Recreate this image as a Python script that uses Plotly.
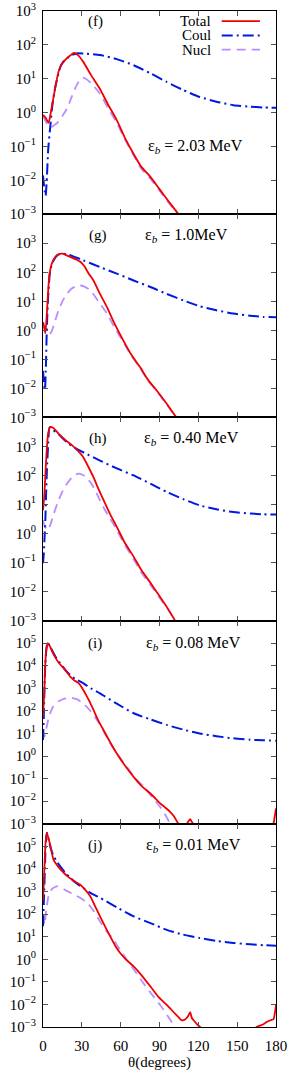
import plotly.graph_objects as go
from plotly.subplots import make_subplots

# ---------------- data (theta in degrees, cross section) ----------------
# panel (f) eps_b = 2.03 MeV
f_tot_x = [0, 2, 4.3, 6, 8.2, 10, 12, 14.5, 17.2, 20, 24, 27, 31, 37, 44, 50, 57, 63, 70, 76, 83, 90, 97, 104.6, 108]
f_tot_y = [0.85, 0.7, 0.5, 1.0, 2.9, 7, 16, 27, 36, 45, 58, 50, 32, 13, 5, 1.8, 0.6, 0.19, 0.06, 0.025, 0.0126, 0.0055, 0.0024, 0.001, 0.0006]
f_cou_x = [0, 1, 2, 3, 4, 5.6, 7.5, 9.5, 11.5, 13.3, 15.5, 18.5, 22, 26, 32, 44, 57, 70, 83, 95.7, 108, 121, 134, 147, 160, 170, 180]
f_cou_y = [0.014, 0.006, 0.0035, 0.012, 0.08, 0.38, 2.0, 5.8, 12, 22, 31, 40, 50, 56, 55, 50, 38, 25, 14.5, 8, 4.7, 2.9, 2.1, 1.66, 1.5, 1.42, 1.38]
f_nuc_x = [0, 2, 4.5, 7, 9.5, 12, 15, 18.5, 22, 26, 30, 33, 37, 44, 50, 57, 63, 70, 76, 83, 90, 97, 104, 108]
f_nuc_y = [0.8, 0.55, 0.38, 0.38, 0.45, 0.54, 0.8, 1.3, 2.8, 6.5, 10.5, 10, 7.5, 3.6, 1.4, 0.5, 0.17, 0.055, 0.022, 0.011, 0.005, 0.0022, 0.001, 0.0006]

# panel (g) eps_b = 1.0 MeV
g_tot_x = [0, 1, 1.8, 3, 4.8, 6.5, 8.2, 10.5, 13, 15, 18, 21, 23.6, 26, 28.8, 32, 35, 39, 44, 49.4, 55, 62, 68, 75, 81, 88, 95, 103, 106]
g_tot_y = [1.9, 1.2, 0.8, 4, 70, 180, 270, 380, 430, 440, 390, 340, 300, 270, 230, 160, 95, 52, 18, 6.3, 1.8, 0.45, 0.15, 0.054, 0.02, 0.0083, 0.0032, 0.001, 0.0007]
g_cou_x = [0, 0.8, 1.5, 2.2, 3, 4, 5.6, 8.2, 11, 14.7, 20, 25, 31, 44, 57, 70, 83, 95.5, 108.5, 121, 134, 147, 160, 170, 180]
g_cou_y = [0.04, 0.015, 0.009, 0.05, 1.3, 15, 117, 260, 380, 440, 400, 330, 260, 150, 90, 52, 31, 18, 10.7, 6.8, 4.9, 3.8, 3.2, 2.9, 2.8]
g_nuc_x = [0, 2, 3.5, 5, 7, 9.5, 12, 15, 18.5, 22, 25.5, 28.8, 32, 36.5, 40, 44, 49.4, 55, 62, 68, 75, 81, 88, 95, 103, 106]
g_nuc_y = [1.9, 1.1, 0.8, 0.72, 1.0, 2.2, 4.9, 10, 18, 27, 33, 35, 32, 24, 15, 8.3, 3.8, 1.3, 0.4, 0.14, 0.05, 0.019, 0.0078, 0.003, 0.001, 0.0007]

# panel (h) eps_b = 0.40 MeV
h_tot_x = [0, 1, 2, 3, 4, 5.6, 8, 10.5, 13.3, 17, 21, 24, 26, 28.5, 31, 35, 39, 43, 46.8, 52, 57, 63, 70, 76, 83, 90, 96, 102, 105]
h_tot_y = [6.3, 20, 150, 900, 2800, 4700, 4300, 3300, 2400, 1700, 1230, 950, 780, 600, 430, 200, 87, 33, 14, 4.5, 1.7, 0.5, 0.16, 0.055, 0.02, 0.007, 0.0028, 0.001, 0.0006]
h_cou_x = [0, 0.6, 1.2, 1.8, 2.4, 3, 4, 5.1, 7, 9.5, 13.3, 18.5, 25, 32, 44, 57, 70, 83, 95.5, 108, 121, 134, 147, 160, 170, 180]
h_cou_y = [0.095, 0.2, 0.7, 2.9, 25, 148, 1200, 4500, 4000, 3200, 2350, 1380, 880, 600, 325, 175, 100, 52, 27, 15.5, 9.3, 6.8, 5.5, 4.9, 4.6, 4.5]
h_nuc_x = [0, 1.5, 3.8, 6, 8.5, 11, 14.5, 18.5, 22, 25, 27.5, 30, 33, 36.5, 40, 44, 48, 52, 57, 63, 70, 76, 83, 90, 96, 102, 105]
h_nuc_y = [2.9, 1.7, 1.3, 2.2, 5, 10.7, 25, 52, 82, 105, 115, 108, 90, 59, 33, 14, 6.3, 3.2, 1.3, 0.42, 0.13, 0.045, 0.017, 0.0062, 0.0026, 0.001, 0.0006]

# panel (i) eps_b = 0.08 MeV
i_tot_x = [0, 1, 1.8, 2.7, 3.6, 5.5, 8.2, 12, 16, 21, 24, 27.5, 30, 32.6, 36, 39, 43, 46.8, 52, 57, 63, 70, 76, 83, 90.5, 94, 98.2, 101, 104.6, 107, 110, 112, 113.6, 115.5, 118, 125, 140, 160, 172, 176, 178, 180]
i_tot_y = [56, 700, 13000, 60000, 100000, 70000, 32000, 14000, 7800, 3300, 2300, 1700, 1100, 600, 260, 110, 35, 14, 4, 1.3, 0.4, 0.12, 0.048, 0.022, 0.008, 0.0055, 0.0034, 0.0022, 0.001, 0.0007, 0.0008, 0.0012, 0.0016, 0.0011, 0.0006, 0.0002, 0.0001, 0.0001, 0.0002, 0.0005, 0.001, 0.0048]
i_cou_x = [0, 0.6, 1.2, 1.8, 2.7, 3.6, 5.5, 8.2, 10.5, 13.3, 17, 21, 25, 31, 37, 44, 57, 70, 83, 95.6, 108, 121, 134, 147, 160, 170, 180]
i_cou_y = [5.1, 60, 1200, 13000, 60000, 107000, 70000, 36000, 21000, 13000, 6800, 3900, 2600, 1700, 1000, 600, 210, 79, 42, 24, 15, 10, 7.6, 6.1, 5.3, 5.0, 4.8]
i_nuc_x = [0, 1.2, 2.5, 4, 5.6, 8, 12, 16, 21, 26, 31, 36, 41.7, 47, 52, 58, 64.7, 71, 77.6, 84, 90.5, 95, 98.2, 101]
i_nuc_y = [14, 7.2, 16, 40, 80, 160, 260, 340, 390, 330, 220, 110, 40, 12, 3.7, 1.1, 0.34, 0.11, 0.044, 0.016, 0.0056, 0.0022, 0.001, 0.0006]

# panel (j) eps_b = 0.01 MeV
j_tot_x = [0, 1, 2, 3, 4.5, 6, 8.2, 12, 16, 19, 22.4, 25.5, 28.8, 32, 36.5, 40, 44, 48, 52, 56, 59.6, 64, 70, 76, 83, 89, 95.6, 101, 105, 107, 110, 112, 113.7, 115, 117, 119, 121.4, 125, 140, 150, 160, 165, 170, 173, 176, 178, 180]
j_tot_y = [370, 8000, 150000, 400000, 200000, 90000, 25000, 12000, 6800, 4700, 3400, 2600, 2000, 1300, 620, 240, 80, 28, 10, 3.8, 1.9, 1.0, 0.48, 0.2, 0.062, 0.022, 0.0095, 0.0045, 0.0026, 0.002, 0.0022, 0.003, 0.0045, 0.0025, 0.0018, 0.0013, 0.001, 0.0005, 0.0002, 0.0002, 0.0004, 0.001, 0.0013, 0.0017, 0.002, 0.0022, 0.0095]
j_cou_x = [0, 0.8, 1.6, 2.3, 3, 4.5, 6, 8.2, 10.5, 13.3, 17, 21, 25, 31, 37, 44, 57, 70, 83, 95.6, 108, 121, 134, 147, 160, 170, 180]
j_cou_y = [29, 600, 20000, 200000, 400000, 180000, 80000, 37000, 22000, 13000, 7000, 4100, 2500, 1450, 850, 530, 200, 80, 40, 20, 12.5, 8.7, 6.5, 5.3, 4.6, 4.2, 4.0]
j_nuc_x = [0, 1.2, 2.5, 4.3, 7, 10.7, 14, 18, 23.6, 29, 34, 39, 44, 49, 54.5, 59.6, 64.7, 71, 77.6, 84, 90.5, 96, 102, 105]
j_nuc_y = [96, 34, 150, 620, 1300, 1700, 1500, 1100, 740, 520, 320, 140, 48, 18, 7.4, 2.6, 0.95, 0.3, 0.087, 0.028, 0.0095, 0.0033, 0.001, 0.0006]

panel_labels = ["(f)", "(g)", "(h)", "(i)", "(j)"]
energy_labels = ["ε<sub><i>b</i></sub> = 2.03 MeV", "ε<sub><i>b</i></sub> = 1.0MeV",
                 "ε<sub><i>b</i></sub> = 0.40 MeV", "ε<sub><i>b</i></sub> = 0.08 MeV",
                 "ε<sub><i>b</i></sub> = 0.01 MeV"]
y_ranges = [(-3, 3), (-3, 4), (-3, 4), (-3, 6), (-3, 6)]
x_ticks = [0, 30, 60, 90, 120, 150, 180]
series_names = ["Total", "Coul", "Nucl"]

panels = [
    (f_tot_x, f_tot_y, f_cou_x, f_cou_y, f_nuc_x, f_nuc_y),
    (g_tot_x, g_tot_y, g_cou_x, g_cou_y, g_nuc_x, g_nuc_y),
    (h_tot_x, h_tot_y, h_cou_x, h_cou_y, h_nuc_x, h_nuc_y),
    (i_tot_x, i_tot_y, i_cou_x, i_cou_y, i_nuc_x, i_nuc_y),
    (j_tot_x, j_tot_y, j_cou_x, j_cou_y, j_nuc_x, j_nuc_y),
]

# ---------------- styles ----------------
RED = "#f00000"
BLUE = "#0019e0"
PURPLE = "#bb8cff"
FONT = "Liberation Serif, Times New Roman, serif"
styles = {
    "Total": dict(color=RED, width=1.8, dash="solid"),
    "Coul": dict(color=BLUE, width=2.0, dash="11px,4px,2px,4px"),
    "Nucl": dict(color=PURPLE, width=1.8, dash="9px,6px"),
}

fig = make_subplots(rows=5, cols=1, shared_xaxes=True, vertical_spacing=0)

for r, (tx, ty, cx, cy, nx, ny) in enumerate(panels, start=1):
    for name, xs, ys in (("Nucl", nx, ny), ("Coul", cx, cy), ("Total", tx, ty)):
        fig.add_trace(go.Scatter(x=xs, y=ys, mode="lines", name=name, showlegend=False,
                                 line=dict(shape="spline", smoothing=0.6, **styles[name])),
                      row=r, col=1)

def sup(k):
    return "10<sup>%s</sup>" % (str(k).replace("-", "\u2212"))

for r, (lo, hi) in enumerate(y_ranges, start=1):
    vals = [10.0 ** k for k in range(lo, hi + 1)]
    txt = [sup(k) for k in range(lo, hi + 1)]
    if r > 1:
        txt[-1] = ""
    fig.update_yaxes(type="log", range=[lo, hi], tickvals=vals, ticktext=txt, automargin=False,
                     ticks="inside", ticklen=5, tickcolor="#555", showline=True, linecolor="black",
                     linewidth=1, mirror="ticks", showgrid=False, zeroline=False, ticklabelstandoff=3,
                     tickfont=dict(family=FONT, size=15, color="black"), row=r, col=1)
    fig.update_xaxes(range=[0, 180], tickvals=x_ticks, ticks="inside", ticklen=5, tickcolor="#555",
                     showline=True, linecolor="black", linewidth=1, mirror="ticks", automargin=False,
                     showgrid=False, zeroline=False, ticklabelstandoff=5,
                     tickfont=dict(family=FONT, size=15, color="black"), row=r, col=1)

fig.update_xaxes(title=dict(text="θ(degrees)", font=dict(family=FONT, size=15, color="black"), standoff=3),
                 row=5, col=1)

# panel labels
lab_pos = [(0.224, 0.946, 0.653, 0.334), (0.237, 0.895, 0.617, 0.895), (0.237, 0.895, 0.639, 0.895),
           (0.224, 0.885, 0.645, 0.885), (0.224, 0.893, 0.645, 0.893)]
for r in range(1, 6):
    ax = "" if r == 1 else str(r)
    lx, ly, ex, ey = lab_pos[r - 1]
    fig.add_annotation(text=panel_labels[r - 1], x=lx, y=ly, xref="x%s domain" % ax, yref="y%s domain" % ax,
                       xanchor="center", yanchor="middle",
                       showarrow=False, font=dict(family=FONT, size=15, color="black"))
    fig.add_annotation(text=energy_labels[r - 1], x=ex, y=ey, xref="x%s domain" % ax, yref="y%s domain" % ax,
                       xanchor="center", yanchor="middle",
                       showarrow=False, font=dict(family=FONT, size=16, color="black"))

# legend (panel f)
leg_y = [0.950, 0.880, 0.810]
for name, yy in zip(series_names, leg_y):
    fig.add_annotation(text=name, x=0.73, y=yy, xref="x domain", yref="y domain", xanchor="right",
                       yanchor="middle", showarrow=False, font=dict(family=FONT, size=15, color="black"))
    fig.add_shape(type="line", x0=0.767, x1=0.931, y0=yy, y1=yy, xref="x domain", yref="y domain",
                  line=styles[name])

fig.update_layout(width=291, height=1071, margin=dict(l=43, r=15, t=11, b=44, autoexpand=False),
                  paper_bgcolor="white", plot_bgcolor="white", showlegend=False,
                  font=dict(family=FONT, color="black"))

fig.write_html("out.html", config={"displayModeBar": False},
               post_script="document.body.style.margin='0';document.body.style.overflow='hidden';")
